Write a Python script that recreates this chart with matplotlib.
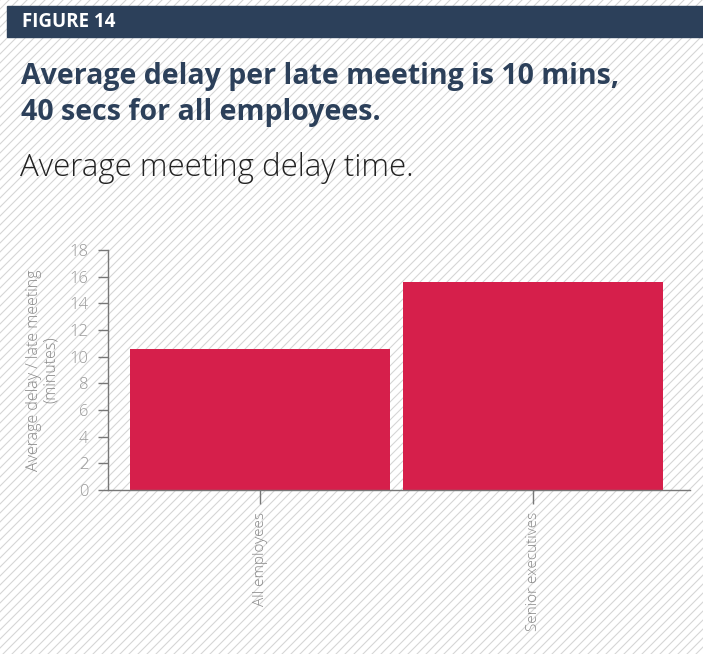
import matplotlib.pyplot as plt
from matplotlib.patches import Rectangle

categories = ["All employees", "Senior executives"]
delay_minutes = [10.6, 15.6]
y_ticks = [0, 2, 4, 6, 8, 10, 12, 14, 16, 18]

navy = "#2c405a"
bar_red = "#d61f4b"
W, H = 703, 654

plt.rcParams['font.family'] = ['Open Sans', 'DejaVu Sans']

fig = plt.figure(figsize=(W / 100, H / 100), dpi=100)

# background with diagonal hatch, in pixel coordinates
bg = fig.add_axes([0, 0, 1, 1])
bg.set_xlim(0, W)
bg.set_ylim(H, 0)
bg.axis("off")
for c in range(0, W + H + 10, 9):
    bg.plot([c - H, c], [H, 0], color="#d6d6d6", lw=0.8, zorder=0)

bg.add_patch(Rectangle((7, 6), W - 7, 31, color=navy, zorder=2))
bg.text(22, 22, "FIGURE 14", color="white", fontsize=13.5, fontweight="bold",
        va="center", ha="left", zorder=3)
bg.text(21, 84, "Average delay per late meeting is 10 mins,", color=navy,
        fontsize=20.5, fontweight="bold", va="baseline", zorder=3)
bg.text(21, 120, "40 secs for all employees.", color=navy,
        fontsize=20.5, fontweight="bold", va="baseline", zorder=3)
bg.text(20, 176, "Average meeting delay time.", color="#222222",
        fontsize=22.5, fontweight="light", va="baseline", zorder=3)

ax = fig.add_axes([108 / W, (H - 490) / H, (690 - 108) / W, 240 / H])
ax.patch.set_alpha(0)
ax.bar(range(len(categories)), delay_minutes, width=0.953, color=bar_red)
ax.set_xlim(-0.557, 1.575)
ax.set_ylim(0, 18)
ax.set_yticks(y_ticks)
ax.set_xticks(range(len(categories)))
ax.set_xticklabels(categories, rotation=90, fontsize=11, color="#888888",
                   fontweight="light")
ax.tick_params(axis="y", labelsize=12, labelcolor="#999999", color="#777777",
               length=7, width=1, pad=7)
ax.tick_params(axis="x", color="#777777", length=10, width=1, pad=6)
for lab in ax.get_yticklabels():
    lab.set_fontweight("light")
for s in ["top", "right"]:
    ax.spines[s].set_visible(False)
for s in ["left", "bottom"]:
    ax.spines[s].set_color("#777777")
    ax.spines[s].set_linewidth(1)
ax.set_ylabel("Average delay / late meeting\n(minutes)", fontsize=11.5,
              color="#888888", fontweight="light", labelpad=8, linespacing=1.0)

fig.savefig("out.png", dpi=100)
